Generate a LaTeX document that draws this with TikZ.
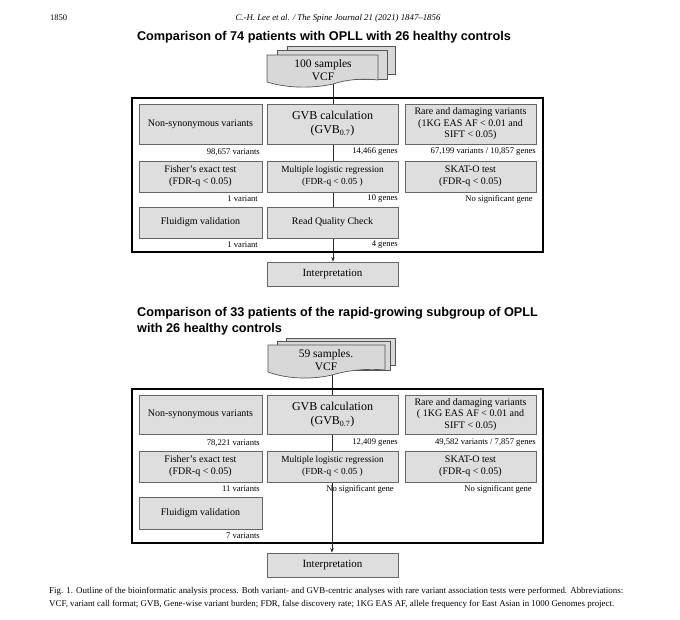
\documentclass[tikz,border=0pt]{standalone}
\usepackage{fontspec}
\setmainfont{Liberation Serif}
\setsansfont{Liberation Sans}
\usetikzlibrary{arrows.meta,backgrounds}
\definecolor{boxfill}{HTML}{DEDEDE}
\definecolor{boxdraw}{HTML}{666666}
\definecolor{sheetfill}{HTML}{D8D8D8}
\definecolor{sheetdraw}{HTML}{555555}
\tikzset{
  gbox/.style={draw=boxdraw, fill=boxfill, line width=0.8pt, inner sep=1pt, align=center, font=\fontsize{10}{12}\selectfont},
  lbl/.style={anchor=east, inner sep=0pt, font=\fontsize{8.6}{9.5}\selectfont},
  frame/.style={draw=black, line width=1.1pt, inner sep=0pt},
  sheet/.style={draw=sheetdraw, fill=sheetfill, line width=0.7pt},
  flow/.style={draw=black!85, line width=0.8pt},
  ttl/.style={inner sep=0pt, font=\fontsize{12.7}{15}\selectfont\sffamily\bfseries},
  captext/.style={anchor=west, inner sep=0pt, font=\fontsize{8.9}{10}\selectfont},
  vcftext/.style={inner sep=0pt, align=center, font=\fontsize{11.5}{13}\selectfont}
}
\begin{document}
\begin{tikzpicture}[x=1pt,y=-1pt]
\useasboundingbox (0,0) rectangle (680,619);
% header
\node[anchor=west, inner sep=0pt, font=\fontsize{8.5}{10}\selectfont] (pg) at (50,18) {1850};
\node[inner sep=0pt, font=\fontsize{8.8}{10}\selectfont\itshape] (jr) at (338,18) {C.-H. Lee et al. / The Spine Journal 21 (2021) 1847--1856};
% ===== Part 1 =====
\node[ttl] (t1) at (324,37) {Comparison of 74 patients with OPLL with 26 healthy controls};
\path[sheet] (287,46) rectangle (395,74);
\path[sheet] (277,50) rectangle (387,79);
\path[sheet] (267,55) -- (378,55) -- (378,80) .. controls (360,78) and (345,80) .. (333,84) .. controls (315,88) and (290,89) .. (267,82) -- cycle;
\node[vcftext] (vcf1) at (323,70) {100 samples\\VCF};
\coordinate (vcf1out) at (333,84);
\node[frame, minimum width=411pt, minimum height=154pt] (box1) at (337.5,175) {};
\node[gbox, minimum width=123pt, minimum height=40pt] (ns1) at (200.5,124) {Non-synonymous variants};
\node[gbox, minimum width=131pt, minimum height=40pt, font=\fontsize{12}{14}\selectfont] (gvb1) at (332.5,124) {GVB calculation\\(GVB\textsubscript{0.7})};
\node[gbox, minimum width=131pt, minimum height=40pt, font=\fontsize{10}{11.5}\selectfont] (rd1) at (470.5,124) {Rare and damaging variants\\(1KG EAS AF {<} 0.01 and\\SIFT {<} 0.05)};
\node[lbl] (l11) at (260,152) {98,657 variants};
\node[lbl] (l12) at (398,152) {14,466 genes};
\node[lbl] (l13) at (536,152) {67,199 variants / 10,857 genes};
\node[gbox, minimum width=123pt, minimum height=31pt, font=\fontsize{10}{12}\selectfont] (fe1) at (200.5,176.5) {Fisher's exact test\\(FDR-q {<} 0.05)};
\node[gbox, minimum width=131pt, minimum height=31pt, font=\fontsize{9.3}{11.5}\selectfont] (ml1) at (332.5,176.5) {Multiple logistic regression\\(FDR-q {<} 0.05 )};
\node[gbox, minimum width=131pt, minimum height=31pt, font=\fontsize{10}{12}\selectfont] (sk1) at (470.5,176.5) {SKAT-O test\\(FDR-q {<} 0.05)};
\node[lbl] (l21) at (258,199) {1 variant};
\node[lbl] (l22) at (398,199) {10 genes};
\node[lbl] (l23) at (533,199) {No significant gene};
\node[gbox, minimum width=123pt, minimum height=31pt] (fl1) at (200.5,222.5) {Fluidigm validation};
\node[gbox, minimum width=131pt, minimum height=31pt] (rq1) at (332.5,222.5) {Read Quality Check};
\node[lbl] (l31) at (258,245) {1 variant};
\node[lbl] (l32) at (398,245) {4 genes};
\node[gbox, minimum width=131pt, minimum height=24pt, font=\fontsize{11}{13}\selectfont] (in1) at (332.5,274) {Interpretation};
\begin{scope}[on background layer]
\draw[flow, -{Stealth[length=4.5pt,width=3.5pt]}] (vcf1out) -- (vcf1out |- in1.north);
\end{scope}
% ===== Part 2 =====
\node[ttl, anchor=west] (t2a) at (137,313) {Comparison of 33 patients of the rapid-growing subgroup of OPLL};
\node[ttl, anchor=west] (t2b) at (137,329) {with 26 healthy controls};
\path[sheet] (286,338) rectangle (395,365);
\path[sheet] (277,341) rectangle (390,370);
\path[sheet] (268,345) -- (385,345) -- (385,370) .. controls (365,368) and (345,371) .. (332,375) .. controls (315,379) and (290,380) .. (268,372) -- cycle;
\node[vcftext] (vcf2) at (326,360.5) {59 samples.\\VCF};
\coordinate (vcf2out) at (332,375);
\node[frame, minimum width=411pt, minimum height=154pt] (box2) at (337.5,466) {};
\node[gbox, minimum width=123pt, minimum height=39pt] (ns2) at (200.5,414.5) {Non-synonymous variants};
\node[gbox, minimum width=131pt, minimum height=39pt, font=\fontsize{12}{14}\selectfont] (gvb2) at (332.5,414.5) {GVB calculation\\(GVB\textsubscript{0.7})};
\node[gbox, minimum width=131pt, minimum height=39pt, font=\fontsize{10}{11.5}\selectfont] (rd2) at (470.5,414.5) {Rare and damaging variants\\( 1KG EAS AF {<} 0.01 and\\SIFT {<} 0.05)};
\node[lbl] (m11) at (260,443) {78,221 variants};
\node[lbl] (m12) at (398,443) {12,409 genes};
\node[lbl] (m13) at (536,443) {49,582 variants / 7,857 genes};
\node[gbox, minimum width=123pt, minimum height=31pt, font=\fontsize{10}{12}\selectfont] (fe2) at (200.5,466.5) {Fisher's exact test\\(FDR-q {<} 0.05)};
\node[gbox, minimum width=131pt, minimum height=31pt, font=\fontsize{9.3}{11.5}\selectfont] (ml2) at (332.5,466.5) {Multiple logistic regression\\(FDR-q {<} 0.05 )};
\node[gbox, minimum width=131pt, minimum height=31pt, font=\fontsize{10}{12}\selectfont] (sk2) at (470.5,466.5) {SKAT-O test\\(FDR-q {<} 0.05)};
\node[lbl] (m21) at (260,489) {11 variants};
\node[lbl] (m22) at (394,489) {No significant gene};
\node[lbl] (m23) at (532,489) {No significant gene};
\node[gbox, minimum width=123pt, minimum height=32pt] (fl2) at (200.5,513) {Fluidigm validation};
\node[lbl] (m31) at (260,536) {7 variants};
\node[gbox, minimum width=131pt, minimum height=24pt, font=\fontsize{11}{13}\selectfont] (in2) at (332.5,565) {Interpretation};
\begin{scope}[on background layer]
\draw[flow, -{Stealth[length=4.5pt,width=3.5pt]}] (vcf2out) -- (vcf2out |- in2.north);
\end{scope}
% caption
\node[captext] (c1) at (49,591) {\makebox[574pt][s]{Fig. 1. Outline of the bioinformatic analysis process. Both variant- and GVB-centric analyses with rare variant association tests were performed. Abbreviations:}};
\node[captext] (c2) at (49,604) {VCF, variant call format; GVB, Gene-wise variant burden; FDR, false discovery rate; 1KG EAS AF, allele frequency for East Asian in 1000 Genomes project.};
\end{tikzpicture}
\end{document}
